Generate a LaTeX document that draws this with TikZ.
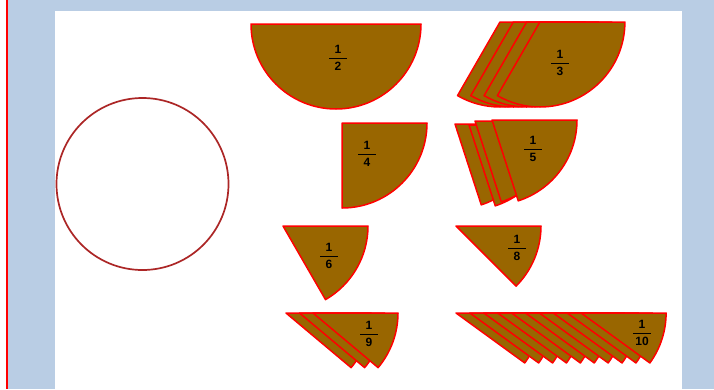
\documentclass[tikz,border=0pt]{standalone}
\usepackage{fontspec}
\setmainfont{Liberation Sans}
\usepackage{amsmath}
\usepackage{xcolor}
\usepackage{tikz}
\definecolor{panelblue}{RGB}{185,205,228}
\definecolor{cakebrown}{RGB}{153,102,0}
\definecolor{rimred}{RGB}{172,38,38}
\newcommand{\slicefrac}[2]{$\genfrac{}{}{1.2pt}{0}{\makebox[18pt]{\bfseries #1}}{\makebox[18pt]{\bfseries #2}}$}

\begin{document}
\begin{tikzpicture}[x=1pt, y=-1pt,
  slice/.style={fill=cakebrown, draw=red, line width=1.5pt, line join=round},
  fraclabel/.style={font=\fontsize{12}{13}\selectfont, inner sep=0pt}
]
  \useasboundingbox (0,0) rectangle (714,389);
  \fill[white] (0,0) rectangle (714,389);
  \fill[panelblue] (7,0) rectangle (714,389);
  \draw[red, line width=2.4pt] (7.2,0) -- (7.2,389);
  \fill[white] (55,11) rectangle (682,389);

  % the whole
  \draw[rimred, line width=1.7pt] (142.5,184) circle[radius=86];

  % halves, thirds, quarters, fifths
  \draw[slice] (251,24) -- (421,24) arc[start angle=0, end angle=180, radius=85] -- cycle;
  \foreach \i in {0,...,3}
    \draw[slice] (500+13.3*\i,22) -- ++(85,0) arc[start angle=0, end angle=120, radius=85] -- cycle;
  \draw[slice] (342,123) -- ++(85,0) arc[start angle=0, end angle=90, radius=85] -- cycle;
  \foreach \ax/\ay in {455/124, 469/125, 475/121, 492/120}
    \draw[slice] (\ax,\ay) -- ++(85,0) arc[start angle=0, end angle=72, radius=85] -- cycle;

  % sixths, eighths, ninths, tenths
  \draw[slice] (283,226) -- ++(85,0) arc[start angle=0, end angle=60, radius=85] -- cycle;
  \draw[slice] (456,226) -- ++(85,0) arc[start angle=0, end angle=45, radius=85] -- cycle;
  \foreach \i in {0,1,2}
    \draw[slice] (286+13.5*\i,313) -- ++(85,0) arc[start angle=0, end angle=40, radius=85] -- cycle;
  \foreach \i in {0,...,9}
    \draw[slice] (456+13.9*\i,313) -- ++(85,0) arc[start angle=0, end angle=36, radius=85] -- cycle;

  \node[fraclabel] (half) at (338,58) {\slicefrac{1}{2}};
  \node[fraclabel] (third) at (560,63) {\slicefrac{1}{3}};
  \node[fraclabel] (quarter) at (367,154) {\slicefrac{1}{4}};
  \node[fraclabel] (fifth) at (533,149) {\slicefrac{1}{5}};
  \node[fraclabel] (sixth) at (329,256) {\slicefrac{1}{6}};
  \node[fraclabel] (eighth) at (517,248) {\slicefrac{1}{8}};
  \node[fraclabel] (ninth) at (369,334) {\slicefrac{1}{9}};
  \node[fraclabel] (tenth) at (642,333) {\slicefrac{1}{10}};
\end{tikzpicture}
\end{document}
